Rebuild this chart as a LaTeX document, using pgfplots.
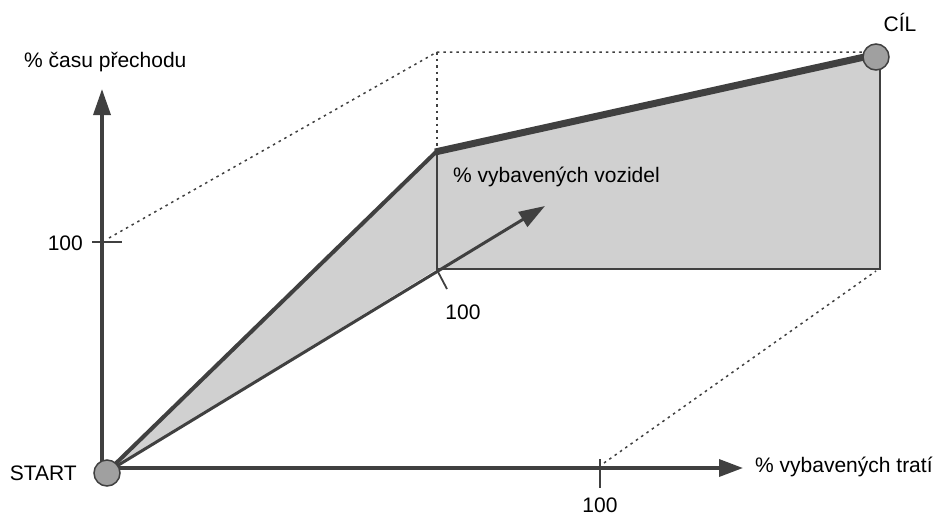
\documentclass[border=0pt]{standalone}
\usepackage{pgfplots}
\pgfplotsset{compat=1.18}
\usetikzlibrary{arrows.meta}
\usepackage{fontspec}
\setmainfont{Liberation Sans}
\definecolor{ln}{HTML}{404040}
\definecolor{shade}{HTML}{D0D0D0}
\definecolor{dot}{HTML}{A0A0A0}
\tikzset{lbl/.style={font=\fontsize{21}{25}\selectfont, text=black, inner sep=0pt}}
\begin{document}
\begin{tikzpicture}
\begin{axis}[
  scale only axis, width=939pt, height=515pt,
  xmin=0, xmax=939, ymin=0, ymax=515, y dir=reverse,
  axis lines=none, clip=false,
]
% frame for bounding box
\addplot[draw=none] coordinates {(0,0) (939,515)};
% shaded area
\addplot[fill=shade, draw=none] coordinates {(107,472) (437,151) (878,53) (880,53) (880,269) (437,269) (107,472)} -- cycle;
% dotted guide lines
\addplot[ln, line width=1.5pt, dash pattern=on 2.5pt off 4pt] coordinates {(109,238) (437,52) (862,52)};
\addplot[ln, line width=1.5pt, dash pattern=on 2.5pt off 4pt] coordinates {(437,52) (437,151)};
\addplot[ln, line width=1.5pt, dash pattern=on 2.5pt off 4pt] coordinates {(604,463) (876,271)};
% box edges
\addplot[ln, line width=2pt] coordinates {(437,151) (437,269) (880,269) (880,60)};
% axes
\addplot[ln, line width=3.5pt, -{Triangle[length=26pt,width=17pt]}] coordinates {(102,472) (102,89)};
\addplot[ln, line width=3.5pt, -{Triangle[length=24pt,width=17pt]}] coordinates {(107,468) (743,468)};
% ticks
\addplot[ln, line width=1.8pt] coordinates {(92,242) (122,242)};
\addplot[ln, line width=1.8pt] coordinates {(600,459) (600,488)};
\addplot[ln, line width=1.8pt] coordinates {(437,270) (447,289)};
% circles
\addplot[only marks, mark=*, mark size=13pt, mark options={fill=dot, draw=ln, line width=1.5pt}] coordinates {(107,473)};
\addplot[only marks, mark=*, mark size=13pt, mark options={fill=dot, draw=ln, line width=1.5pt}] coordinates {(876,57)};
% diagonal axis
\addplot[ln, line width=3pt, -{Triangle[length=26pt,width=17pt]}] coordinates {(107,472) (545,206)};
% thick path
\addplot[ln, line width=4pt] coordinates {(107,472) (437,151)};
\addplot[ln, line width=7pt] coordinates {(435,152) (878,54)};
% labels
\node[lbl, anchor=west] at (axis cs:24,62) {\% času přechodu};
\node[lbl, anchor=east] at (axis cs:83,243) {100};
\node[lbl, anchor=east] at (axis cs:77,473) {START};
\node[lbl, anchor=center] at (axis cs:900,22) {CÍL};
\node[lbl, anchor=west] at (axis cs:755,467) {\% vybavených tratí};
\node[lbl, anchor=center] at (axis cs:600,505) {100};
\node[lbl, anchor=center] at (axis cs:463,312) {100};
\node[lbl, anchor=west] at (axis cs:453,177) {\% vybavených vozidel};
\end{axis}
\end{tikzpicture}
\end{document}
